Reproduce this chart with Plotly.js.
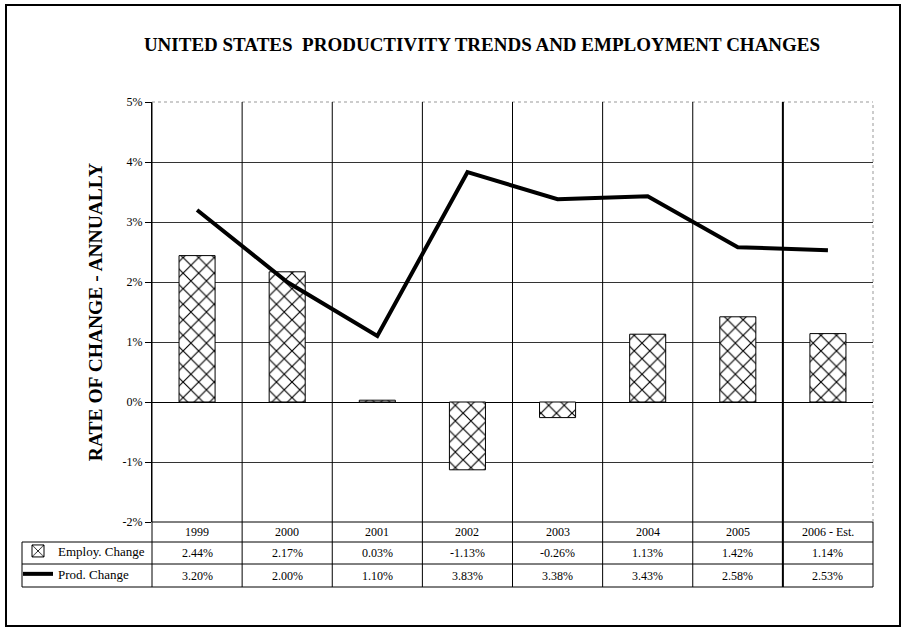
<!DOCTYPE html>
<html>
<head>
<meta charset="utf-8">
<script src="https://cdn.plot.ly/plotly-3.0.1.min.js"></script>
<style>html,body{margin:0;padding:0;background:#fff;}#chart{width:904px;height:629px;}</style>
</head>
<body>
<div id="chart"></div>
<script>
// ---- data ----
const years = ["1999", "2000", "2001", "2002", "2003", "2004", "2005", "2006 - Est."];
const employChange = [2.44, 2.17, 0.03, -1.13, -0.26, 1.13, 1.42, 1.14];
const prodChange = [3.20, 2.00, 1.10, 3.83, 3.38, 3.43, 2.58, 2.53];
const seriesNames = ["Employ. Change", "Prod. Change"];
const yTicks = [-2, -1, 0, 1, 2, 3, 4, 5];

// ---- layout helpers (pixel -> paper) ----
const W = 904, H = 629;
const L = 152, R = 873, T = 102, B = 522;
const px = x => (x - L) / (R - L);
const py = y => (B - y) / (B - T);

const idx = years.map((_, i) => i);
const serif = "Liberation Serif, Times New Roman, serif";

const traces = [
  {
    type: "bar", x: idx, y: employChange, name: seriesNames[0], width: 0.4,
    legendgroup: "a",
    marker: { color: "#ffffff", line: { color: "#000000", width: 1 },
      pattern: { shape: "x", fgcolor: "#000000", bgcolor: "#ffffff", size: 11, solidity: 0.2 } }
  },
  {
    type: "scatter", mode: "lines", x: idx, y: prodChange, name: seriesNames[1],
    legendgroup: "b",
    line: { color: "#000000", width: 4 }
  }
];

const shapes = [];
const annotations = [];
const rowLines = [542, 564, 587];
shapes.push({ type: "line", xref: "paper", yref: "paper", x0: 0, x1: 1, y0: 0, y1: 0, line: { color: "#000", width: 1 } });
rowLines.forEach(r => {
  shapes.push({ type: "line", xref: "paper", yref: "paper", x0: px(22), x1: 1, y0: py(r), y1: py(r), line: { color: "#000", width: 1 } });
});
shapes.push({ type: "line", xref: "paper", yref: "paper", x0: px(22), x1: px(22), y0: py(542), y1: py(587), line: { color: "#000", width: 1 } });
shapes.push({ type: "line", xref: "paper", yref: "paper", x0: 0, x1: 0, y0: 1, y1: py(587), line: { color: "#000", width: 1 } });
shapes.push({ type: "line", xref: "paper", yref: "paper", x0: 1, x1: 1, y0: 0, y1: py(587), line: { color: "#000", width: 1 } });
shapes.push({ type: "line", xref: "paper", yref: "paper", x0: 0, x1: 1, y0: 1, y1: 1, line: { color: "#999", width: 1, dash: "dot" } });
shapes.push({ type: "line", xref: "paper", yref: "paper", x0: 1, x1: 1, y0: 0, y1: 1, line: { color: "#999", width: 1, dash: "dot" } });
for (let i = 1; i < years.length; i++) {
  shapes.push({ type: "line", xref: "x", yref: "paper", x0: i - 0.5, x1: i - 0.5, y0: 1, y1: py(587),
    line: { color: "#000", width: i === years.length - 1 ? 2 : 1 } });
}
shapes.push({ type: "rect", xref: "paper", yref: "paper", x0: px(6), x1: px(900), y0: py(5), y1: py(626),
  line: { color: "#000", width: 2 }, fillcolor: "rgba(0,0,0,0)" });

const fmt = v => v.toFixed(2) + "%";
const rowY = [532, 553, 575.5];
const cellFont = { family: serif, size: 12, color: "#000" };
years.forEach((yr, i) => {
  annotations.push({ xref: "x", yref: "paper", x: i, y: py(rowY[0]), yanchor: "middle", text: yr, showarrow: false, font: cellFont });
  annotations.push({ xref: "x", yref: "paper", x: i, y: py(rowY[1]), yanchor: "middle", text: fmt(employChange[i]), showarrow: false, font: cellFont });
  annotations.push({ xref: "x", yref: "paper", x: i, y: py(rowY[2]), yanchor: "middle", text: fmt(prodChange[i]), showarrow: false, font: cellFont });
});

const layout = {
  width: W, height: H,
  margin: { l: L, r: W - R, t: T, b: H - B, pad: 0 },
  paper_bgcolor: "#fff", plot_bgcolor: "#fff",
  title: { text: "UNITED STATES  PRODUCTIVITY TRENDS AND EMPLOYMENT CHANGES",
    font: { family: serif, size: 19, color: "#000", weight: "bold" },
    xref: "container", yref: "container", x: 482 / W, y: 1 - 44 / H, xanchor: "center", yanchor: "middle" },
  showlegend: true,
  legend: { x: px(18), y: py(536), xanchor: "left", yanchor: "top", traceorder: "grouped", tracegroupgap: 3,
    font: { family: serif, size: 13, color: "#000" }, bgcolor: "rgba(0,0,0,0)", itemwidth: 30 },
  xaxis: { range: [-0.5, years.length - 0.5], showticklabels: false, showgrid: false, zeroline: false, showline: false, ticks: "", fixedrange: true },
  yaxis: { range: [-2, 5], tickvals: yTicks, ticktext: yTicks.map(v => v + "%"), showgrid: true, gridcolor: "#333", gridwidth: 1,
    zeroline: true, zerolinecolor: "#000", zerolinewidth: 1, showline: true, linecolor: "#000", linewidth: 1,
    ticks: "outside", ticklen: 6, tickcolor: "#000",
    tickfont: cellFont,
    title: { text: "RATE OF CHANGE - ANNUALLY", font: { family: serif, size: 19.5, color: "#000", weight: "bold" }, standoff: 14 } },
  shapes: shapes, annotations: annotations
};

Plotly.newPlot("chart", traces, layout, { staticPlot: true, displayModeBar: false });
</script>
</body>
</html>
